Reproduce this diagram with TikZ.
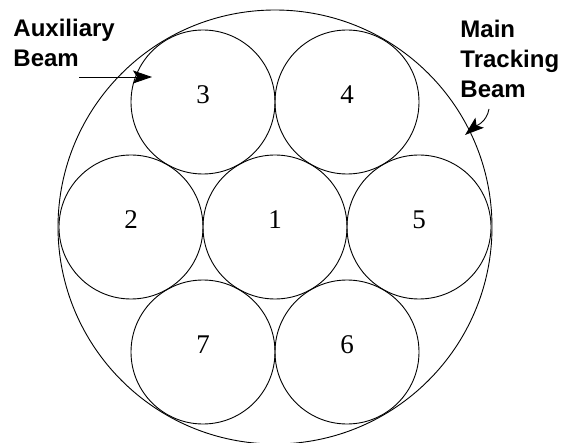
\documentclass[tikz,border=0pt]{standalone}
\usepackage{fontspec}
\setmainfont{Liberation Serif}
\newfontfamily\labelsans{Liberation Sans}
\usetikzlibrary{arrows.meta, positioning}

\begin{document}
\begin{tikzpicture}[
      x=1pt, y=1pt, line width=0.9pt,
      beam/.style={draw, circle, minimum size=144pt, inner sep=0pt},
      num/.style={font=\fontsize{27}{27}\selectfont, inner sep=0pt},
      tag/.style={font=\labelsans\bfseries\fontsize{24}{30}\selectfont,
                  align=left, inner sep=0pt, anchor=north west},
      pointer/.style={-{Stealth[length=19pt, width=13pt, inset=4pt]}}
    ]
    \useasboundingbox (0,0) rectangle (575,442);
    \node[draw, circle, minimum size=434pt, inner sep=0pt] (main) at (275,215) {};
    % the seven auxiliary beams
    \foreach \n/\x/\y in {1/275/215, 2/131/215, 3/203/340, 4/347/340,
                          5/419/215, 6/347/90, 7/203/90} {
      \node[beam] (b\n) at (\x,\y) {};
      \node[num] (n\n) at ([yshift=7pt]b\n.center) {\n};
    }
    \node[tag] (aux) at (13,423) {Auxiliary\\Beam};
    \node[tag] (trk) at (460,422) {Main\\Tracking\\Beam};
    \coordinate (auxtail) at (79,365);
    \coordinate (auxtip) at (152,365);
    \coordinate (trktail) at (489,333);
    \coordinate (trktip) at (465,307);
    \draw[pointer] (auxtail) -- (auxtip);
    \draw[pointer] (trktail) to[out=-100, in=40] (trktip);
\end{tikzpicture}
\end{document}
